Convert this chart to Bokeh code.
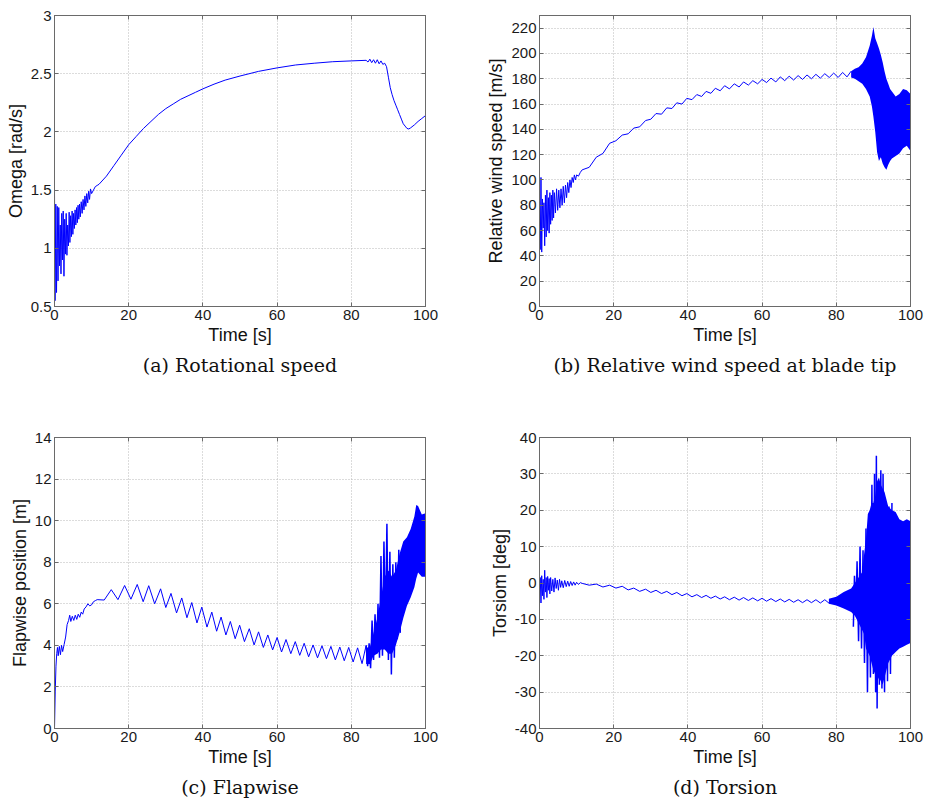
from bokeh.plotting import figure
from bokeh.layouts import column, row
from bokeh.models import FixedTicker, LinearAxis, Title, Range1d
from bokeh.embed import file_html
from bokeh.resources import INLINE

# ---------------- data ----------------
x_ticks = [0, 20, 40, 60, 80, 100]

# shared oscillation instants (peaks / troughs of the once-per-revolution wiggle)
osc_t = [11.5, 13.4, 15.3, 17.1, 18.9, 20.6, 22.3, 23.9, 25.4, 27.0,
         28.6, 30.0, 31.4, 32.9, 34.3, 35.7, 37.0, 38.4, 39.7, 41.1,
         42.4, 43.7, 44.9, 46.2, 47.4, 48.7, 49.9, 51.2, 52.5, 53.8,
         55.0, 56.3, 57.5, 58.8, 60.0, 61.2, 62.4, 63.7, 64.9, 66.1,
         67.3, 68.5, 69.7, 70.9, 72.1, 73.3, 74.5, 75.7, 76.9, 78.1,
         79.3, 80.5, 81.7, 82.9, 84.0]

# (a) rotational speed
a_early_t = [0, 0.15, 0.35, 0.55, 0.75, 0.95, 1.15, 1.35, 1.55, 1.75,
             1.95, 2.15, 2.35, 2.55, 2.75, 2.95, 3.15, 3.35, 3.55, 3.75,
             3.95, 4.15, 4.35, 4.55, 4.75, 4.95, 5.15, 5.35, 5.55, 5.75,
             5.95, 6.15, 6.35, 6.55, 6.75, 6.95, 7.2, 7.45, 7.7, 7.95,
             8.2, 8.45, 8.7, 8.95, 9.2, 9.45, 9.7, 10.0, 10.5, 11.0, 11.5]
a_early_v = [1.5, 0.55, 1.38, 0.62, 1.36, 0.72, 1.35, 0.85, 1.2, 0.78,
             1.3, 0.9, 1.32, 0.76, 1.25, 0.95, 1.3, 0.94, 1.2, 1.02,
             1.31, 1.05, 1.28, 1.1, 1.32, 1.12, 1.3, 1.17, 1.33, 1.2,
             1.35, 1.22, 1.37, 1.25, 1.38, 1.27, 1.4, 1.3, 1.42, 1.33,
             1.45, 1.36, 1.47, 1.39, 1.49, 1.42, 1.51, 1.47, 1.5, 1.53, 1.54]
a_main_t = [12, 14, 16, 18, 20, 22, 24, 26, 28, 30, 32, 34, 36, 38, 40,
            43, 46, 50, 55, 60, 65, 70, 75, 80, 84]
a_main_v = [1.55, 1.62, 1.71, 1.8, 1.89, 1.96, 2.03, 2.09, 2.15, 2.2, 2.24, 2.28, 2.31, 2.34, 2.37,
            2.41, 2.445, 2.48, 2.52, 2.55, 2.575, 2.59, 2.603, 2.61, 2.615]
a_tail_t = [84.5, 85, 85.5, 86, 86.5, 87, 87.5, 88, 88.5, 89, 89.5,
            90, 90.5, 91, 91.5, 92, 92.5, 93, 93.5, 94, 94.5, 95, 95.5,
            96, 97, 98, 99, 100]
a_tail_v = [2.6, 2.625, 2.595, 2.62, 2.59, 2.62, 2.585, 2.61, 2.58, 2.59, 2.56,
            2.47, 2.38, 2.32, 2.27, 2.23, 2.19, 2.15, 2.11, 2.07, 2.05, 2.03, 2.025,
            2.035, 2.06, 2.09, 2.115, 2.14]

# (b) relative wind speed at blade tip
b_early_t = [0, 0.2, 0.4, 0.6, 0.8, 1.0, 1.2, 1.4, 1.6, 1.8, 2.0,
             2.2, 2.4, 2.6, 2.8, 3.0, 3.2, 3.4, 3.6, 3.8, 4.0,
             4.3, 4.6, 4.9, 5.2, 5.5, 5.8, 6.1, 6.4, 6.7, 7.0,
             7.3, 7.6, 7.9, 8.2, 8.5, 8.8, 9.1, 9.4, 9.7, 10.0, 10.5, 11.0]
b_early_v = [80, 45, 102, 43, 85, 62, 82, 48, 88, 55, 92,
             60, 86, 58, 90, 65, 88, 68, 92, 70, 90,
             74, 93, 76, 92, 78, 93, 80, 95, 82, 96,
             86, 98, 90, 100, 94, 102, 98, 104, 100, 104, 103, 106]
b_osc = [108, 110, 118, 121, 129, 131, 135.5, 136.5, 141, 142,
         147, 148, 152.5, 152, 157, 156.5, 161, 160, 164.5, 163.5,
         167.5, 166, 170, 168.5, 172.5, 170.5, 174.5, 172, 176, 173.5,
         177.5, 175, 178.5, 176, 179.5, 177, 180.5, 177.5, 181.5, 178.5,
         182, 179, 182.5, 179.5, 183, 180, 183.5, 180.5, 184, 181,
         184.5, 181, 185, 181.5, 186]
b_band_t = [84, 85, 86, 87, 88, 89, 89.6, 90, 90.5, 91, 91.5, 92, 92.5, 93, 93.5,
            94, 94.5, 95, 96, 97, 98, 99, 100]
b_band_hi = [186, 188, 189, 192, 197, 206, 214, 221, 212, 208, 204, 199, 193, 186, 180,
             176, 172, 170, 166, 168, 172, 171, 168]
b_band_lo = [181, 180, 178, 176, 172, 166, 158, 150, 138, 122, 115, 118, 113, 110, 108,
             112, 115, 117, 119, 121, 125, 127, 123]

# (c) flapwise position
c_early_t = [0, 0.2, 0.4, 0.6, 0.8, 1.0, 1.3, 1.6, 1.9, 2.2, 2.6, 3.0, 3.4, 3.8,
             4.1, 4.4, 4.8, 5.2, 5.6, 6.0, 6.4, 6.8, 7.2, 7.6, 8.0,
             8.5, 9.0, 9.5, 10.0, 10.5, 11.0]
c_early_v = [0.0, 1.8, 3.0, 3.6, 3.9, 3.5, 3.95, 3.55, 4.0, 3.7, 4.05, 4.4, 5.0, 5.2,
             5.45, 5.15, 5.4, 5.2, 5.45, 5.25, 5.5, 5.35, 5.6, 5.5, 5.75,
             5.85, 6.0, 5.9, 5.95, 6.1, 6.15]
c_osc = [6.2, 6.18, 6.68, 6.2, 6.88, 6.22, 6.93, 6.1, 6.87, 6.0,
         6.72, 5.82, 6.5, 5.56, 6.28, 5.33, 6.06, 5.08, 5.84, 4.88,
         5.6, 4.68, 5.36, 4.5, 5.15, 4.32, 4.97, 4.18, 4.8, 4.02,
         4.65, 3.9, 4.5, 3.78, 4.38, 3.68, 4.28, 3.6, 4.18, 3.52,
         4.1, 3.45, 4.02, 3.4, 3.98, 3.36, 3.95, 3.3, 3.92, 3.26,
         3.9, 3.2, 3.88, 3.12, 4.0]
c_band_t = [84, 85, 86, 87, 88, 89, 90, 91, 92, 93, 94, 95, 96, 97, 97.5, 98, 99, 100]
c_band_hi = [3.9, 3.9, 4.6, 5.3, 6.3, 7.3, 7.6, 7.3, 7.6, 8.4, 9.0, 9.2, 9.6, 10.2, 10.75, 10.7, 10.3, 10.35]
c_band_lo = [3.1, 3.1, 3.5, 3.6, 3.8, 3.8, 3.6, 3.6, 4.0, 4.6, 5.3, 5.9, 6.3, 6.8, 7.2, 7.5, 7.3, 7.3]
c_spike_t = [84.0, 84.4, 84.8, 85.2, 85.6, 86.0, 86.4, 86.8, 87.2, 87.6, 88.0, 88.4,
             88.8, 89.2, 89.6, 90.0, 90.4, 90.8, 91.2, 91.6, 92.0, 92.4, 92.8, 93.2]
c_spike_v = [4.0, 3.0, 4.1, 2.9, 5.2, 3.3, 5.5, 3.6, 6.0, 3.4, 8.3, 3.5,
             9.0, 4.5, 9.85, 3.3, 8.5, 2.6, 7.9, 3.4, 8.0, 4.3, 8.6, 4.6]

# (d) torsion
d_early_t = [0, 0.2, 0.4, 0.6, 0.8, 1.0, 1.2, 1.4, 1.6, 1.8, 2.0, 2.2, 2.4, 2.6, 2.8, 3.0,
             3.3, 3.6, 3.9, 4.2, 4.5, 4.8, 5.1, 5.4, 5.7, 6.0,
             6.4, 6.8, 7.2, 7.6, 8.0, 8.4, 8.8, 9.2, 9.6, 10.0, 10.5, 11.0]
d_early_v = [-2, 1.5, -5.5, 2.0, -3.5, 1.0, -4.5, 3.5, -2.5, 1.5, -4.0, 1.8, -2.0, 1.2, -3.0, 1.5,
             -2.2, 1.0, -2.5, 1.4, -1.5, 0.8, -2.0, 1.0, -1.2, 0.6,
             -1.3, 0.7, -1.0, 0.5, -0.9, 0.4, -0.7, 0.3, -0.6, 0.2, -0.4, 0.1]
d_osc = [-0.1, -0.6, -0.3, -1.1, -0.6, -1.4, -0.9, -1.9, -1.4, -2.3,
         -1.7, -2.6, -2.0, -2.9, -2.3, -3.2, -2.6, -3.5, -2.9, -3.8,
         -3.2, -4.0, -3.4, -4.2, -3.6, -4.4, -3.8, -4.6, -3.9, -4.7,
         -4.0, -4.8, -4.1, -4.9, -4.2, -5.0, -4.3, -5.1, -4.4, -5.2,
         -4.5, -5.3, -4.6, -5.4, -4.6, -5.4, -4.6, -5.5, -4.6, -5.6,
         -4.4, -6.2, -3.8, -7.0, -2.5]
d_band_t = [78, 80, 82, 84, 85, 86, 87, 87.5, 88, 88.5, 89, 89.5, 90, 90.5, 91, 91.5,
            92, 92.5, 93, 93.5, 94, 95, 96, 97, 98, 99, 100]
d_band_hi = [-4.3, -3.8, -2.5, -1.5, 0.0, 1.5, 3.0, 8.0, 12.0, 19.0, 20.0, 22.0, 22.0, 24.0, 28.0, 29.0,
             27.0, 26.0, 25.0, 23.0, 21.0, 20.0, 19.5, 17.5, 17.0, 17.5, 17.0]
d_band_lo = [-5.7, -6.2, -7.0, -8.0, -9.0, -11.0, -13.0, -14.0, -18.0, -19.0, -20.0, -22.0, -24.0, -25.0, -27.0, -26.0,
             -27.0, -28.0, -26.0, -24.0, -22.0, -20.0, -19.0, -18.0, -17.5, -17.0, -16.5]
d_spike_t = [84.6, 84.9, 85.3, 85.6, 86.0, 86.4, 86.8, 87.2, 87.6, 88.0,
             88.4, 88.8, 89.2, 89.6, 90.0, 90.3, 90.6, 90.8, 91.0, 91.3,
             91.6, 92.0, 92.3, 92.6, 93.0, 93.4, 93.8, 94.2, 94.6, 95.0]
d_spike_v = [-12, 2, -8, 6, -16, 10, -18, 9, -22, 15,
             -30, 13, -26, 27, -25, 30, -30, 35, -34.5, 27,
             -28, 31, -29, 30, -30, 22, -27, 21, -25, 22]

a_yticks = [0.5, 1, 1.5, 2, 2.5, 3]
a_ylabels = ["0.5", "1", "1.5", "2", "2.5", "3"]
b_yticks = [0, 20, 40, 60, 80, 100, 120, 140, 160, 180, 200, 220]
c_yticks = [0, 2, 4, 6, 8, 10, 12, 14]
d_yticks = [-40, -30, -20, -10, 0, 10, 20, 30, 40]

# ---------------- styling ----------------
BLUE = "#0000ff"
FRAME = "#6a6a6a"
SANS = "Liberation Sans"


def make(ylabel, y_range, yticks, ylabels, caption, left, right, top, bottom):
    p = figure(frame_width=371, frame_height=291,
               x_range=Range1d(0, 100), y_range=Range1d(*y_range),
               output_backend="svg", toolbar_location=None,
               min_border_left=left, min_border_right=right,
               min_border_top=top, min_border_bottom=bottom,
               background_fill_color="white", border_fill_color="white")
    p.outline_line_color = FRAME
    p.outline_line_width = 1
    for ax in (p.xaxis[0], p.yaxis[0]):
        ax.major_tick_in = 4
        ax.major_tick_out = 0
        ax.minor_tick_line_color = None
        ax.axis_line_color = FRAME
        ax.major_tick_line_color = FRAME
        ax.major_label_text_font = SANS
        ax.major_label_text_font_size = "15px"
        ax.major_label_text_color = "#1a1a1a"
        ax.major_label_standoff = 3
        ax.axis_label_text_font = SANS
        ax.axis_label_text_font_size = "18px"
        ax.axis_label_text_font_style = "normal"
        ax.axis_label_text_color = "#111111"
        ax.axis_label_standoff = 2
    p.xaxis[0].ticker = FixedTicker(ticks=x_ticks)
    p.xaxis[0].axis_label = "Time [s]"
    p.yaxis[0].ticker = FixedTicker(ticks=yticks)
    p.yaxis[0].major_label_overrides = {t: l for t, l in zip(yticks, ylabels)}
    p.yaxis[0].axis_label = ylabel
    # inward ticks on the opposite sides (MATLAB box), without labels
    for tk, side in ((yticks, "right"), (x_ticks, "above")):
        ax = LinearAxis(ticker=FixedTicker(ticks=tk), major_tick_in=4, major_tick_out=0,
                        minor_tick_line_color=None, axis_line_color=FRAME,
                        major_tick_line_color=FRAME, major_label_text_font_size="1px",
                        major_label_text_color=None, major_label_standoff=0)
        p.add_layout(ax, side)
    p.xgrid.ticker = FixedTicker(ticks=x_ticks)
    p.ygrid.ticker = FixedTicker(ticks=yticks)
    for g in (p.xgrid[0], p.ygrid[0]):
        g.grid_line_color = "#b8b8b8"
        g.grid_line_dash = "1 2"
        g.grid_line_width = 1
    cap = Title(text=caption, align="center", offset=-13, standoff=8,
                text_font="DejaVu Serif", text_font_size="19px",
                text_font_style="normal", text_color="#111111")
    p.add_layout(cap, "below")
    return p


pa = make("Omega [rad/s]", (0.5, 3), a_yticks, a_ylabels,
          "(a) Rotational speed", 54, 45, 15, 94)
pa.line(a_early_t + a_main_t + a_tail_t, a_early_v + a_main_v + a_tail_v,
        line_color=BLUE, line_width=1)

pb = make("Relative wind speed [m/s]", (0, 230), b_yticks, [str(v) for v in b_yticks],
          "(b) Relative wind speed at blade tip", 69, 15, 15, 94)
pb.line(b_early_t + osc_t, b_early_v + b_osc, line_color=BLUE, line_width=1)
pb.varea(x=b_band_t, y1=b_band_lo, y2=b_band_hi, fill_color=BLUE)

pc = make("Flapwise position [m]", (0, 14), c_yticks, [str(v) for v in c_yticks],
          "(c) Flapwise", 54, 45, 37, 74)
pc.line(c_early_t + osc_t, c_early_v + c_osc, line_color=BLUE, line_width=1)
pc.varea(x=c_band_t, y1=c_band_lo, y2=c_band_hi, fill_color=BLUE)
pc.line(c_spike_t, c_spike_v, line_color=BLUE, line_width=1.5)

pd = make("Torsiom [deg]", (-40, 40), d_yticks, [str(v) for v in d_yticks],
          "(d) Torsion", 69, 15, 37, 74)
pd.line(d_early_t + osc_t, d_early_v + d_osc, line_color=BLUE, line_width=1)
pd.varea(x=d_band_t, y1=d_band_lo, y2=d_band_hi, fill_color=BLUE)
pd.line(d_spike_t, d_spike_v, line_color=BLUE, line_width=1.5)

layout = column(row(pa, pb), row(pc, pd))
open("out.html", "w").write(file_html(layout, INLINE))
